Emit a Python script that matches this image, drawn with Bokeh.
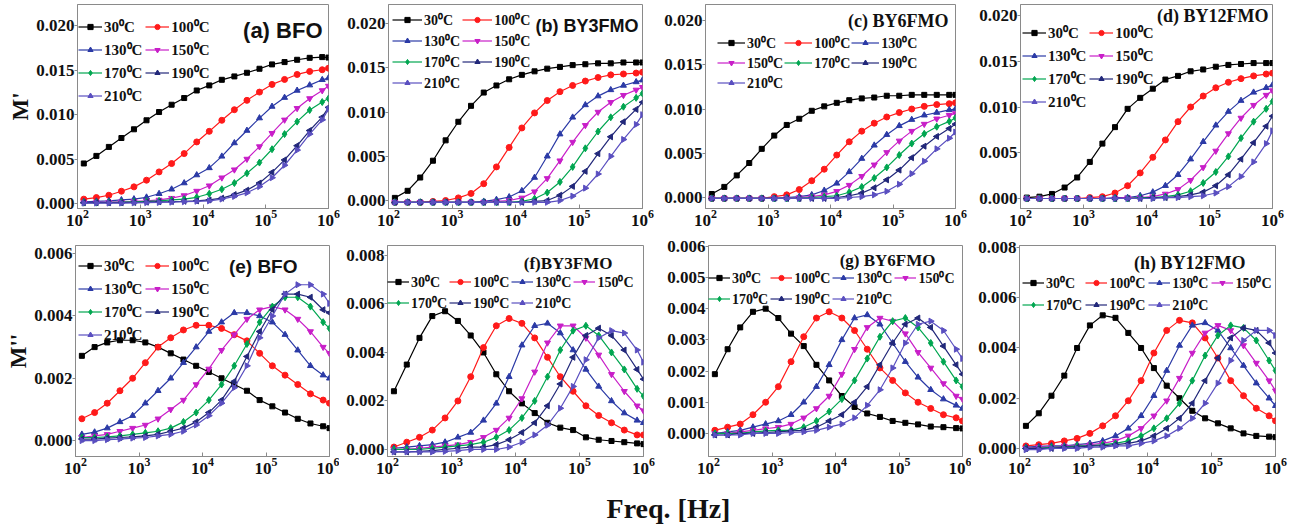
import math
from bokeh.plotting import figure
from bokeh.models import Range1d, FixedTicker, PrintfTickFormatter, Legend, LegendItem, Label
from bokeh.layouts import row, column
from bokeh.embed import file_html
from bokeh.resources import INLINE

# ---------------- data ----------------
freq = [126, 200, 316, 501, 794, 1259, 1995, 3162, 5012, 7943, 12589, 19953,
        31623, 50119, 79433, 125893, 199526, 316228, 501187, 794328, 1000000]
temp_labels = ["30⁰C", "100⁰C", "130⁰C", "150⁰C", "170⁰C", "190⁰C", "210⁰C"]

# (a) BFO  M'
bfo_m1 = [
    [0.0045, 0.00535, 0.00636, 0.00736, 0.00834, 0.00935, 0.01028, 0.0111, 0.01185, 0.0127, 0.01327, 0.0139, 0.01428, 0.01469, 0.01514, 0.01563, 0.01589, 0.01615, 0.01637, 0.01645, 0.0164],
    [0.00049, 0.00067, 0.00093, 0.00138, 0.00187, 0.00262, 0.00355, 0.00449, 0.00561, 0.00692, 0.00811, 0.00935, 0.01054, 0.01159, 0.01252, 0.01338, 0.01394, 0.0145, 0.01484, 0.01503, 0.0152],
    [0.0002, 0.00025, 0.0003, 0.0004, 0.0005, 0.0007, 0.0011, 0.0016, 0.0023, 0.0032, 0.0040, 0.0053, 0.0068, 0.0082, 0.0096, 0.0109, 0.0119, 0.0127, 0.0133, 0.0139, 0.0141],
    [0.0001, 0.00012, 0.00015, 0.0002, 0.00025, 0.0003, 0.0004, 0.0006, 0.0009, 0.0014, 0.0020, 0.0029, 0.0038, 0.0050, 0.0064, 0.0079, 0.0094, 0.0107, 0.0118, 0.0127, 0.0132],
    [0.0001, 0.0001, 0.00012, 0.00015, 0.0002, 0.00025, 0.0003, 0.0004, 0.0005, 0.0007, 0.0011, 0.0016, 0.0023, 0.0034, 0.0046, 0.0061, 0.0078, 0.0092, 0.0105, 0.0114, 0.0118],
    [0.0001, 0.0001, 0.0001, 0.0001, 0.00012, 0.00015, 0.0002, 0.00022, 0.00025, 0.0003, 0.0004, 0.0006, 0.0010, 0.0015, 0.0023, 0.0035, 0.0049, 0.0065, 0.0082, 0.0097, 0.0108],
    [0.00005, 0.00005, 0.00005, 0.00005, 0.00008, 0.0001, 0.00012, 0.00015, 0.0002, 0.00025, 0.0003, 0.0005, 0.0008, 0.0012, 0.0019, 0.0029, 0.0043, 0.0060, 0.0078, 0.0094, 0.0106],
]
# (b) BY3FMO  M'
by3_m1 = [
    [0.0003, 0.0011, 0.0026, 0.0045, 0.0068, 0.0089, 0.0107, 0.0122, 0.0130, 0.0137, 0.0142, 0.0146, 0.0149, 0.0151, 0.0153, 0.0154, 0.0155, 0.0155, 0.0156, 0.0156, 0.0156],
    [-0.0002, -0.0002, -0.0002, -0.0001, 0.0000, 0.0003, 0.0008, 0.0019, 0.0038, 0.0060, 0.0082, 0.0099, 0.0113, 0.0123, 0.0130, 0.0135, 0.0139, 0.0142, 0.0143, 0.0144, 0.0145],
    [-0.0002, -0.0002, -0.0002, -0.0002, -0.0002, -0.0002, -0.0002, -0.0001, 0.0001, 0.0004, 0.0011, 0.0026, 0.0050, 0.0075, 0.0094, 0.0108, 0.0118, 0.0125, 0.0130, 0.0134, 0.0136],
    [-0.0002, -0.0002, -0.0002, -0.0002, -0.0002, -0.0002, -0.0002, -0.0002, -0.0001, 0.0000, 0.0003, 0.0010, 0.0025, 0.0045, 0.0066, 0.0085, 0.0100, 0.0111, 0.0119, 0.0125, 0.0128],
    [-0.0002, -0.0002, -0.0002, -0.0002, -0.0002, -0.0002, -0.0002, -0.0002, -0.0002, -0.0002, -0.0001, 0.0002, 0.0009, 0.0021, 0.0038, 0.0059, 0.0078, 0.0094, 0.0106, 0.0116, 0.0121],
    [-0.0002, -0.0002, -0.0002, -0.0002, -0.0002, -0.0002, -0.0002, -0.0002, -0.0002, -0.0002, -0.0002, -0.0001, 0.0000, 0.0006, 0.0016, 0.0033, 0.0053, 0.0072, 0.0089, 0.0103, 0.0111],
    [-0.0002, -0.0002, -0.0002, -0.0002, -0.0002, -0.0002, -0.0002, -0.0002, -0.0002, -0.0002, -0.0002, -0.0002, -0.0002, 0.0000, 0.0005, 0.0014, 0.0030, 0.0050, 0.0069, 0.0086, 0.0097],
]
# (c) BY6FMO  M'
by6_m1 = [
    [0.0004, 0.0012, 0.0025, 0.0039, 0.0055, 0.0070, 0.0082, 0.0089, 0.0098, 0.0103, 0.0107, 0.0110, 0.0112, 0.0113, 0.0115, 0.0115, 0.0116, 0.0116, 0.0116, 0.0116, 0.0116],
    [-0.0001, -0.0001, -0.0001, -0.0001, -0.0001, 0.0001, 0.0003, 0.0009, 0.0019, 0.0032, 0.0048, 0.0063, 0.0075, 0.0084, 0.0091, 0.0096, 0.0100, 0.0103, 0.0105, 0.0106, 0.0107],
    [-0.0001, -0.0001, -0.0001, -0.0001, -0.0001, -0.0001, 0.0000, 0.0001, 0.0003, 0.0008, 0.0016, 0.0029, 0.0044, 0.0059, 0.0071, 0.0081, 0.0088, 0.0093, 0.0096, 0.0099, 0.0100],
    [-0.0001, -0.0001, -0.0001, -0.0001, -0.0001, -0.0001, -0.0001, 0.0000, 0.0001, 0.0003, 0.0007, 0.0014, 0.0024, 0.0037, 0.0051, 0.0064, 0.0075, 0.0083, 0.0089, 0.0093, 0.0095],
    [-0.0001, -0.0001, -0.0001, -0.0001, -0.0001, -0.0001, -0.0001, -0.0001, 0.0000, 0.0001, 0.0002, 0.0006, 0.0012, 0.0022, 0.0034, 0.0048, 0.0061, 0.0072, 0.0080, 0.0086, 0.0090],
    [-0.0001, -0.0001, -0.0001, -0.0001, -0.0001, -0.0001, -0.0001, -0.0001, -0.0001, -0.0001, 0.0000, 0.0002, 0.0005, 0.0011, 0.0020, 0.0031, 0.0045, 0.0058, 0.0069, 0.0078, 0.0083],
    [-0.0001, -0.0001, -0.0001, -0.0001, -0.0001, -0.0001, -0.0001, -0.0001, -0.0001, -0.0001, -0.0001, 0.0000, 0.0001, 0.0003, 0.0007, 0.0015, 0.0027, 0.0041, 0.0055, 0.0067, 0.0074],
]
# (d) BY12FMO  M'
by12_m1 = [
    [0.0001, 0.0002, 0.0005, 0.0012, 0.0023, 0.0040, 0.0060, 0.0078, 0.0098, 0.0110, 0.0120, 0.0130, 0.0134, 0.0139, 0.0141, 0.0144, 0.0146, 0.0147, 0.0148, 0.0148, 0.0148],
    [0.0000, 0.0000, 0.0000, 0.0000, 0.0000, 0.0001, 0.0002, 0.0006, 0.0014, 0.0028, 0.0045, 0.0064, 0.0084, 0.0100, 0.0112, 0.0121, 0.0127, 0.0131, 0.0134, 0.0136, 0.0137],
    [0.0000, 0.0000, 0.0000, 0.0000, 0.0000, 0.0000, 0.0000, 0.0001, 0.0001, 0.0003, 0.0007, 0.0014, 0.0026, 0.0043, 0.0062, 0.0080, 0.0095, 0.0107, 0.0116, 0.0121, 0.0124],
    [0.0000, 0.0000, 0.0000, 0.0000, 0.0000, 0.0000, 0.0000, 0.0000, 0.0001, 0.0001, 0.0002, 0.0005, 0.0010, 0.0020, 0.0034, 0.0052, 0.0071, 0.0088, 0.0102, 0.0113, 0.0118],
    [0.0000, 0.0000, 0.0000, 0.0000, 0.0000, 0.0000, 0.0000, 0.0000, 0.0000, 0.0001, 0.0001, 0.0002, 0.0004, 0.0008, 0.0017, 0.0029, 0.0046, 0.0066, 0.0084, 0.0098, 0.0106],
    [0.0000, 0.0000, 0.0000, 0.0000, 0.0000, 0.0000, 0.0000, 0.0000, 0.0000, 0.0000, 0.0001, 0.0001, 0.0002, 0.0004, 0.0007, 0.0014, 0.0026, 0.0043, 0.0061, 0.0079, 0.0090],
    [0.0000, 0.0000, 0.0000, 0.0000, 0.0000, 0.0000, 0.0000, 0.0000, 0.0000, 0.0000, 0.0000, 0.0001, 0.0001, 0.0002, 0.0003, 0.0006, 0.0013, 0.0024, 0.0040, 0.0060, 0.0074],
]
# (e) BFO  M''
bfo_m2 = [
    [0.00272, 0.0030, 0.00315, 0.00322, 0.00322, 0.00315, 0.0030, 0.0028, 0.0026, 0.0024, 0.0022, 0.0020, 0.0018, 0.0016, 0.0013, 0.0011, 0.0009, 0.0007, 0.00055, 0.00046, 0.0004],
    [0.0007, 0.0009, 0.0012, 0.0016, 0.0020, 0.0025, 0.0030, 0.0033, 0.00355, 0.0037, 0.0037, 0.0036, 0.0034, 0.0032, 0.0028, 0.0024, 0.0021, 0.0018, 0.0015, 0.0013, 0.0012],
    [0.0002, 0.00027, 0.0004, 0.0006, 0.0008, 0.0012, 0.0016, 0.0020, 0.0025, 0.0030, 0.0035, 0.0038, 0.0041, 0.0041, 0.0040, 0.0038, 0.0034, 0.0029, 0.0024, 0.0021, 0.0020],
    [0.0001, 0.00015, 0.0002, 0.0003, 0.0004, 0.0005, 0.0007, 0.0010, 0.0013, 0.0018, 0.0023, 0.0029, 0.0034, 0.0039, 0.0042, 0.0043, 0.0042, 0.0039, 0.0035, 0.0030, 0.0028],
    [0.0001, 0.0001, 0.00012, 0.00015, 0.0002, 0.00025, 0.0003, 0.0004, 0.0006, 0.0009, 0.0013, 0.0018, 0.0024, 0.0031, 0.0038, 0.0043, 0.0046, 0.0046, 0.0043, 0.0038, 0.0036],
    [0.00005, 0.00005, 0.00008, 0.0001, 0.00012, 0.00015, 0.0002, 0.0003, 0.0004, 0.0006, 0.0009, 0.0013, 0.0019, 0.0027, 0.0035, 0.0042, 0.0047, 0.0047, 0.0046, 0.0042, 0.0041],
    [0.0000, 0.0000, 0.00003, 0.00005, 0.00008, 0.0001, 0.00015, 0.0002, 0.0003, 0.0005, 0.0008, 0.0012, 0.0017, 0.0024, 0.0033, 0.0040, 0.0047, 0.0050, 0.0050, 0.0047, 0.0044],
]
# (f) BY3FMO  M''
by3_m2 = [
    [0.0024, 0.0035, 0.0046, 0.0055, 0.0057, 0.0053, 0.0047, 0.0040, 0.0031, 0.0024, 0.0019, 0.0015, 0.0011, 0.0009, 0.0008, 0.0005, 0.0004, 0.00035, 0.0003, 0.00025, 0.00022],
    [0.0001, 0.0003, 0.0005, 0.0008, 0.0013, 0.0020, 0.0030, 0.0042, 0.0051, 0.0054, 0.0052, 0.0046, 0.0038, 0.0030, 0.0024, 0.0018, 0.0014, 0.0011, 0.0008, 0.0006, 0.0006],
    [0.00005, 0.0001, 0.00015, 0.0002, 0.0003, 0.0005, 0.0007, 0.0012, 0.0019, 0.0030, 0.0043, 0.0051, 0.0052, 0.0048, 0.0041, 0.0033, 0.0026, 0.0020, 0.0015, 0.0012, 0.0011],
    [0.0000, 0.0000, 0.00005, 0.0001, 0.00015, 0.0002, 0.0003, 0.0005, 0.0008, 0.0013, 0.0021, 0.0032, 0.0044, 0.0051, 0.0051, 0.0046, 0.0039, 0.0031, 0.0024, 0.0018, 0.0016],
    [0.0000, 0.0000, 0.0000, 0.00005, 0.0001, 0.00015, 0.0002, 0.0003, 0.0005, 0.0008, 0.0013, 0.0020, 0.0030, 0.0041, 0.0049, 0.0051, 0.0047, 0.0040, 0.0033, 0.0025, 0.0022],
    [-0.0001, -0.0001, -0.00008, -0.00005, 0.0000, 0.00005, 0.0001, 0.0001, 0.0002, 0.0004, 0.0007, 0.0011, 0.0018, 0.0027, 0.0038, 0.0047, 0.0050, 0.0047, 0.0041, 0.0033, 0.0029],
    [-0.0001, -0.0001, -0.0001, -0.0001, -0.00008, -0.00005, 0.0000, 0.0000, 0.0000, 0.0001, 0.0003, 0.0006, 0.0010, 0.0017, 0.0026, 0.0037, 0.0046, 0.0049, 0.0048, 0.0041, 0.0036],
]
# (g) BY6FMO  M''
by6_m2 = [
    [0.0019, 0.0027, 0.0034, 0.0039, 0.0040, 0.0037, 0.0032, 0.0028, 0.0022, 0.0017, 0.0012, 0.00085, 0.00064, 0.00053, 0.0004, 0.00034, 0.00029, 0.00022, 0.0002, 0.00017, 0.00016],
    [0.0001, 0.0002, 0.0003, 0.0006, 0.0010, 0.0015, 0.0023, 0.0031, 0.0037, 0.0039, 0.0037, 0.0033, 0.0027, 0.0021, 0.0017, 0.0013, 0.0010, 0.0008, 0.0006, 0.0005, 0.0004],
    [0.0000, 0.00005, 0.0001, 0.0002, 0.0003, 0.0004, 0.0006, 0.0010, 0.0015, 0.0022, 0.0030, 0.0037, 0.0038, 0.0035, 0.0029, 0.0023, 0.0018, 0.0014, 0.0011, 0.0009, 0.0008],
    [0.0000, 0.0000, 0.00005, 0.0001, 0.00015, 0.0002, 0.0003, 0.0005, 0.0008, 0.0012, 0.0019, 0.0027, 0.0034, 0.0037, 0.0036, 0.0032, 0.0026, 0.0021, 0.0016, 0.0012, 0.0011],
    [0.0000, 0.0000, 0.0000, 0.00005, 0.00008, 0.0001, 0.0001, 0.0002, 0.0004, 0.0007, 0.0011, 0.0017, 0.0024, 0.0031, 0.0036, 0.0037, 0.0034, 0.0029, 0.0023, 0.0017, 0.0015],
    [-0.00005, -0.00005, 0.0000, 0.0000, 0.00003, 0.00005, 0.00008, 0.0001, 0.0002, 0.0004, 0.0006, 0.0010, 0.0015, 0.0022, 0.0029, 0.0035, 0.0037, 0.0034, 0.0028, 0.0022, 0.0019],
    [-0.00005, -0.00005, -0.00005, 0.0000, 0.0000, 0.0000, 0.00003, 0.00005, 0.0001, 0.0002, 0.0003, 0.0005, 0.0009, 0.0014, 0.0021, 0.0029, 0.0035, 0.0036, 0.0033, 0.0027, 0.0024],
]
# (h) BY12FMO  M''
by12_m2 = [
    [0.0009, 0.0014, 0.0021, 0.0029, 0.0040, 0.0049, 0.0053, 0.0052, 0.0046, 0.0040, 0.0032, 0.0025, 0.0020, 0.0015, 0.0012, 0.0010, 0.0008, 0.0006, 0.0005, 0.00047, 0.00045],
    [0.0001, 0.00015, 0.0002, 0.0003, 0.0004, 0.0006, 0.0009, 0.0013, 0.0019, 0.0027, 0.0038, 0.0047, 0.0051, 0.0050, 0.0044, 0.0036, 0.0027, 0.0021, 0.0016, 0.0013, 0.0011],
    [0.00005, 0.00008, 0.0001, 0.0001, 0.00015, 0.0002, 0.0003, 0.0005, 0.0008, 0.0013, 0.0021, 0.0031, 0.0041, 0.0049, 0.0050, 0.0047, 0.0040, 0.0033, 0.0026, 0.0020, 0.0017],
    [0.0000, 0.00005, 0.00005, 0.0001, 0.0001, 0.00015, 0.0002, 0.0003, 0.0005, 0.0008, 0.0013, 0.0019, 0.0028, 0.0038, 0.0046, 0.0049, 0.0047, 0.0041, 0.0034, 0.0027, 0.0023],
    [0.0000, 0.0000, 0.00005, 0.00005, 0.0001, 0.0001, 0.00015, 0.0002, 0.0003, 0.0005, 0.0008, 0.0012, 0.0018, 0.0027, 0.0037, 0.0045, 0.0049, 0.0048, 0.0043, 0.0035, 0.0031],
    [0.0000, 0.0000, 0.0000, 0.00005, 0.00005, 0.0001, 0.0001, 0.00015, 0.0002, 0.0003, 0.0005, 0.0008, 0.0012, 0.0018, 0.0027, 0.0036, 0.0044, 0.0048, 0.0047, 0.0042, 0.0038],
    [-0.00005, -0.00005, 0.0000, 0.0000, 0.0000, 0.00005, 0.00005, 0.0001, 0.0001, 0.0002, 0.0003, 0.0005, 0.0008, 0.0012, 0.0018, 0.0026, 0.0035, 0.0043, 0.0047, 0.0047, 0.0045],
]

m1_ticks = [0.0, 0.005, 0.010, 0.015, 0.020]
bfo_m2_ticks = [0.0, 0.002, 0.004, 0.006]
by3_m2_ticks = [0.0, 0.002, 0.004, 0.006, 0.008]
by6_m2_ticks = [0.0, 0.001, 0.002, 0.003, 0.004, 0.005, 0.006]
by12_m2_ticks = [0.0, 0.002, 0.004, 0.006, 0.008]
x_ticks = [1e2, 1e3, 1e4, 1e5, 1e6]

# ---------------- style ----------------
colors = ["#000000", "#ff1a1a", "#2b3aa6", "#c81ec8", "#00a650", "#22287a", "#5a4fc0"]
markers = ["square", "circle", "triangle", "inverted_triangle", "diamond", "triangle", "triangle"]
marker_angles = [0, 0, 0, 0, 0, math.pi / 2, -math.pi / 2]
marker_sizes = [5, 6, 6, 6, 7, 6, 6]
SERIF = "Liberation Serif"
SANS = "Liberation Sans"
GRAY = "#8a8a8a"

ROW1_TOP, ROW1_FH = 4, 204
ROW2_TOP, ROW2_FH = 8, 211


def make_panel(series, yticks, yr, title, tfont, tsize, tdx, tdy,
               fw, fh, bl, br, bt, bb, ylabel,
               ncols, lfont, gw, lh, sp, loff, lrow):
    p = figure(frame_width=fw, frame_height=fh, x_axis_type="log",
               x_range=Range1d(100, 1e6), y_range=Range1d(yr[0], yr[1]),
               output_backend="svg", toolbar_location=None,
               min_border_left=bl, min_border_right=br,
               min_border_top=bt, min_border_bottom=bb)
    p.grid.visible = False
    p.outline_line_color = GRAY
    p.outline_line_width = 1
    p.background_fill_color = "white"
    p.border_fill_color = "white"

    xa = p.xaxis[0]
    xa.ticker = FixedTicker(ticks=x_ticks, minor_ticks=[])
    xa.major_label_text_font = SERIF
    xa.major_label_text_font_style = "bold"
    xa.major_label_text_font_size = "17px"
    xa.major_label_text_color = "#111111"
    xa.major_tick_in = 4
    xa.major_tick_out = 0
    xa.major_label_standoff = 1
    xa.axis_line_color = GRAY
    xa.major_tick_line_color = GRAY
    xa.minor_tick_line_color = None

    ya = p.yaxis[0]
    ya.ticker = FixedTicker(ticks=yticks, minor_ticks=[])
    ya.formatter = PrintfTickFormatter(format="%.3f")
    ya.major_label_text_font = SERIF
    ya.major_label_text_font_style = "bold"
    ya.major_label_text_font_size = "17px"
    ya.major_label_text_color = "#111111"
    ya.major_tick_in = 0
    ya.major_tick_out = 3
    ya.major_label_standoff = 0
    ya.axis_line_color = GRAY
    ya.major_tick_line_color = GRAY
    ya.minor_tick_line_color = None
    if ylabel:
        ya.axis_label = ylabel
        ya.axis_label_text_font = SERIF
        ya.axis_label_text_font_style = "bold"
        ya.axis_label_text_font_size = "23px"
        ya.axis_label_text_color = "#111111"
        ya.axis_label_standoff = 0

    items = []
    for k, ys in enumerate(series):
        ln = p.line(freq, ys, line_color=colors[k], line_width=1.2)
        sc = p.scatter(freq, ys, marker=markers[k], size=marker_sizes[k],
                       angle=marker_angles[k], fill_color=colors[k],
                       line_color=colors[k])
        items.append(LegendItem(label=temp_labels[k], renderers=[ln, sc]))

    nrows = math.ceil(len(items) / ncols)
    leg_h = nrows * lh + (nrows - 1) * sp
    vy = int(round(fh - (lrow - lh / 2.0) - leg_h))
    leg = Legend(items=items, location=(loff, vy), orientation="horizontal",
                 ncols=ncols, label_text_font=SERIF, label_text_font_style="bold",
                 label_text_font_size=f"{lfont}px", label_text_color="#111111",
                 glyph_width=gw, glyph_height=13, label_height=lh,
                 label_standoff=2, spacing=sp, padding=0, margin=0,
                 background_fill_alpha=0, border_line_alpha=0)
    p.add_layout(leg)

    tx = 10 ** (6 - tdx / fw * 4.0)
    ty = yr[1] - tdy / fh * (yr[1] - yr[0])
    p.add_layout(Label(x=tx, y=ty, text=title, text_align="right",
                       text_baseline="middle", text_font=tfont,
                       text_font_style="bold", text_font_size=f"{tsize}px",
                       text_color="#111111"))
    return p


# row 1: frames from y=4 to y=208
pa = make_panel(bfo_m1, m1_ticks, (-0.00056, 0.02236), "(a) BFO", SANS, 22, 6, 26,
                251, ROW1_FH, 77, 12, ROW1_TOP, 29, "M'", 2, 15, 24, 20, 3, 1, 22)
pb = make_panel(by3_m1, m1_ticks, (-0.0009, 0.02215), "(b) BY3FMO", SANS, 18, 4, 21,
                254, ROW1_FH, 48, 15, ROW1_TOP, 29, None, 2, 14, 30, 19, 2, 4, 16)
pc = make_panel(by6_m1, m1_ticks, (-0.00124, 0.02181), "(c) BY6FMO", SERIF, 18, 7, 16,
                250, ROW1_FH, 48, 17, ROW1_TOP, 29, None, 3, 14, 28, 19, 1, 12, 39)
pd = make_panel(by12_m1, m1_ticks, (-0.00109, 0.0212), "(d) BY12FMO", SERIF, 18, 4, 11,
                252, ROW1_FH, 48, 35, ROW1_TOP, 29, None, 2, 15, 24, 20, 3, 2, 28)

# row 2: frames from y=245 to y=456
pe = make_panel(bfo_m2, bfo_m2_ticks, (-0.00051, 0.00626), "(e) BFO", SANS, 19, 32, 21,
                254, ROW2_FH, 75, 10, ROW2_TOP, 36, "M''", 2, 15, 24, 20, 3, 3, 20)
pf = make_panel(by3_m2, by3_m2_ticks, (-0.00029, 0.00841), "(f)BY3FMO", SERIF, 17, 31, 18,
                256, ROW2_FH, 48, 17, ROW2_TOP, 36, None, 4, 14, 22, 19, 2, 0, 37)
pg = make_panel(by6_m2, by6_m2_ticks, (-0.00074, 0.006026), "(g) BY6FMO", SERIF, 17, 27, 15,
                254, ROW2_FH, 48, 9, ROW2_TOP, 36, None, 4, 14, 22, 19, 2, 0, 32)
ph = make_panel(by12_m2, by12_m2_ticks, (-0.00032, 0.00808), "(h) BY12FMO", SERIF, 18, 30, 17,
                256, ROW2_FH, 48, 32, ROW2_TOP, 36, None, 4, 14, 22, 19, 3, 3, 38)

# common x label
xl = figure(width=1307, height=34, x_range=Range1d(0, 1307), y_range=Range1d(0, 34),
            output_backend="svg", toolbar_location=None,
            min_border_left=0, min_border_right=0, min_border_top=0, min_border_bottom=0)
xl.axis.visible = False
xl.grid.visible = False
xl.outline_line_color = None
xl.add_layout(Label(x=668, y=18, text="Freq. [Hz]", text_align="center",
                    text_baseline="middle", text_font=SERIF, text_font_style="bold",
                    text_font_size="28px", text_color="#111111"))

layout = column(row(pa, pb, pc, pd), row(pe, pf, pg, ph), xl)
open("out.html", "w").write(file_html(layout, INLINE))
